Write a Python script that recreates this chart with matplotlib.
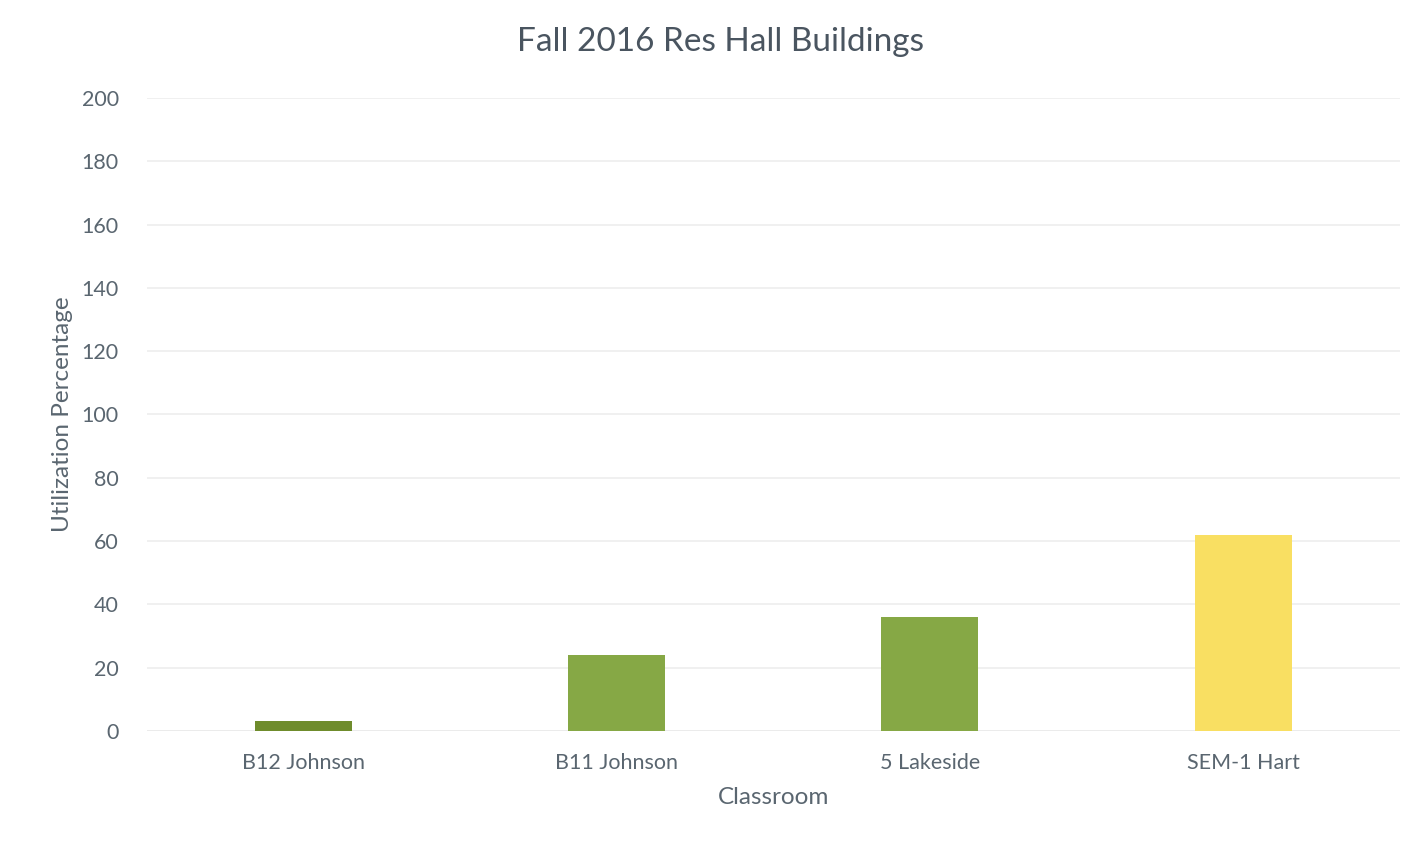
import matplotlib
matplotlib.use("Agg")
import matplotlib.pyplot as plt

categories = ["B12 Johnson", "B11 Johnson", "5 Lakeside", "SEM-1 Hart"]
values = [3, 24, 36, 62]
colors = ["#6F8C2C", "#86A845", "#86A845", "#F9DF62"]
yticks = [0, 20, 40, 60, 80, 100, 120, 140, 160, 180, 200]

plt.rcParams['font.family'] = ['Lato', 'DejaVu Sans']
text_color = "#5A6670"

fig = plt.figure(figsize=(14.16, 8.44), dpi=100)
ax = fig.add_axes([0.1035, 0.134, 0.885, 0.750])
x = list(range(len(categories)))
ax.bar(x, values, width=0.31, color=colors, zorder=3)
ax.set_xlim(-0.5, 3.5)
ax.set_ylim(0, 200)
ax.set_yticks(yticks)
ax.set_xticks(x)
ax.set_xticklabels(categories)
ax.tick_params(axis='both', length=0, colors=text_color, labelsize=15.5)
ax.tick_params(axis='x', pad=16)
ax.tick_params(axis='y', pad=20)
ax.grid(axis='y', color="#EDEDED", linewidth=1.2, zorder=0)
for s in ax.spines.values():
    s.set_visible(False)
ax.axhline(0, color="#E2E2E2", linewidth=1.2, zorder=1)
ax.set_xlabel("Classroom", fontsize=17.5, color=text_color, labelpad=10)
ax.set_ylabel("Utilization Percentage", fontsize=17.5, color=text_color, labelpad=6)
fig.suptitle("Fall 2016 Res Hall Buildings", fontsize=24, color="#4A5560", y=0.968, x=0.509)
fig.savefig("out.png", dpi=100)
